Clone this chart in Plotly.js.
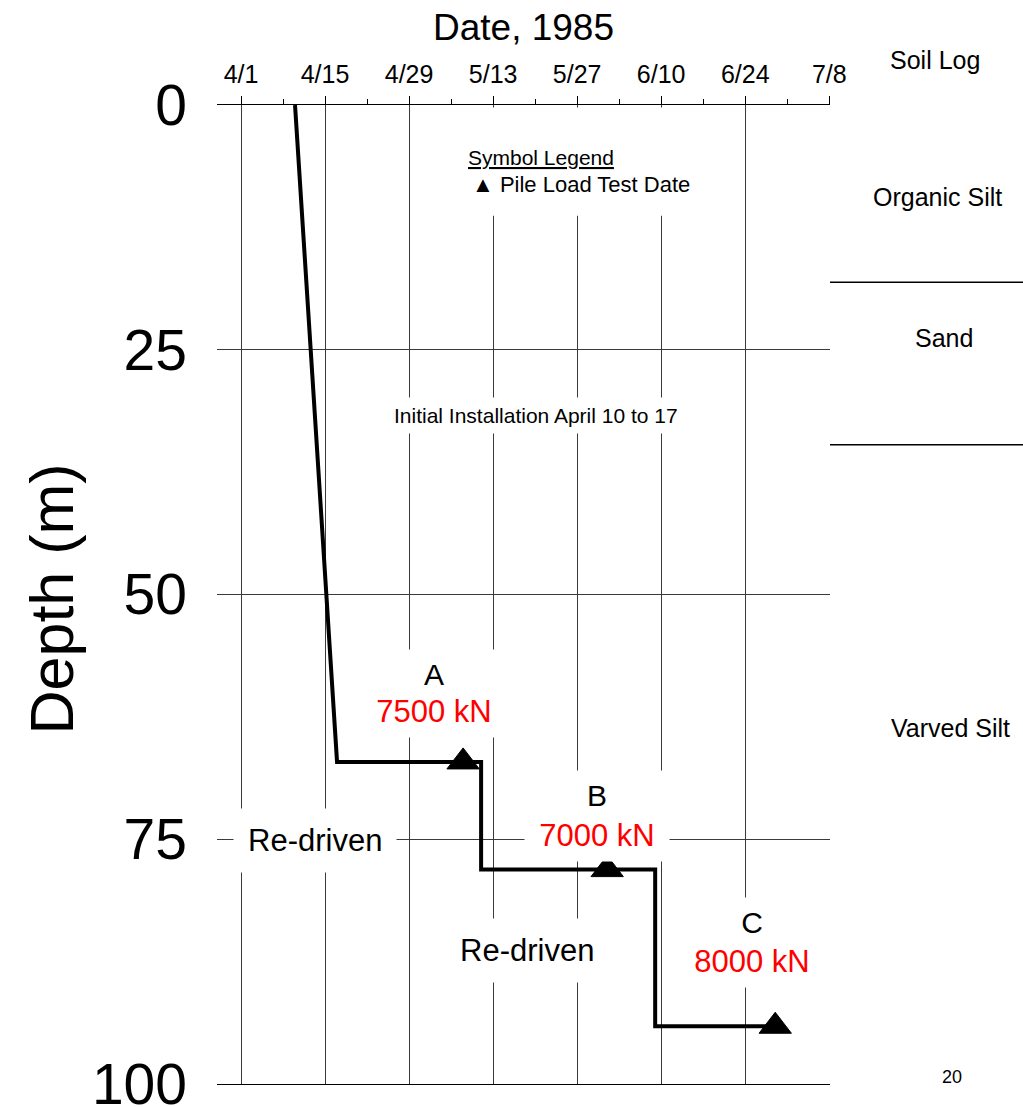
<!DOCTYPE html>
<html>
<head>
<meta charset="utf-8">
<script src="https://cdn.plot.ly/plotly-3.0.1.min.js"></script>
<style>
html,body{margin:0;padding:0;background:#fff;}
#chart{width:1023px;height:1107px;}
</style>
</head>
<body>
<div id="chart"></div>
<script>
// ---- data ----
const pileDates  = ['1985-04-10','1985-04-17','1985-05-11','1985-05-11','1985-06-09','1985-06-09','1985-06-29'];
const pileDepths = [0, 67.1, 67.1, 78.1, 78.1, 94.1, 94.1];
const testDates  = ['1985-05-08','1985-06-01','1985-06-29'];
const testDepths = [67.1, 78.1, 94.1];
const testLabels = ['A','B','C'];
const testLoads  = ['7500 kN','7000 kN','8000 kN'];
const soilNames  = ['Organic Silt','Sand','Varved Silt'];
const soilBoundaries = [18.1, 34.7];
const depthTicks = [0, 25, 50, 75, 100];

const FONT = 'Liberation Sans, Arial, sans-serif';
const DAY = 86400000;
const gridCol = '#3a3a3a';

const traces = [
  {x: pileDates, y: pileDepths, type: 'scatter', mode: 'lines',
   line: {color: '#000', width: 4}, hoverinfo: 'skip', showlegend: false},
  {x: testDates, y: testDepths, type: 'scatter', mode: 'markers',
   marker: {symbol: 'triangle-up', size: 28, color: '#000', line: {color: '#000', width: 1}},
   showlegend: false}
];

// label placement (layout only)
const testLabelPos = [
  {x: '1985-05-03 04:00', yl: 58.2, yv: 62.0},
  {x: '1985-05-30 08:00', yl: 70.5, yv: 74.6},
  {x: '1985-06-25 04:00', yl: 83.5, yv: 87.5}
];
const soilLabelPos = [
  {x: 1.176, y: 9.4},
  {x: 1.186, y: 23.8},
  {x: 1.196, y: 63.6}
];

const annotations = [];
testLabels.forEach((lab, i) => {
  const p = testLabelPos[i];
  annotations.push({
    x: p.x, y: p.yl, xref: 'x', yref: 'y', xanchor: 'center', yanchor: 'middle',
    text: lab, showarrow: false, font: {family: FONT, size: 30, color: '#000'},
    bgcolor: '#fff', borderpad: 8, width: 128
  });
  annotations.push({
    x: p.x, y: p.yv, xref: 'x', yref: 'y', xanchor: 'center', yanchor: 'middle',
    text: testLoads[i], showarrow: false, font: {family: FONT, size: 31, color: '#ff0000'},
    bgcolor: '#fff', borderpad: 8, width: 128
  });
});
soilNames.forEach((nm, i) => {
  annotations.push({
    x: soilLabelPos[i].x, y: soilLabelPos[i].y, xref: 'paper', yref: 'y',
    xanchor: 'center', yanchor: 'middle',
    text: nm, showarrow: false, font: {family: FONT, size: 25, color: '#000'}
  });
});
annotations.push(
  {x: 1.171, y: 1.046, xref: 'paper', yref: 'paper', xanchor: 'center', yanchor: 'middle',
   text: 'Soil Log', showarrow: false, font: {family: FONT, size: 25, color: '#000'}},
  {x: 1.199, y: 99.3, xref: 'paper', yref: 'y', xanchor: 'center', yanchor: 'middle',
   text: '20', showarrow: false, font: {family: FONT, size: 18, color: '#000'}},
  {x: -0.269, y: 0.495, xref: 'paper', yref: 'paper', xanchor: 'center', yanchor: 'middle',
   text: 'Depth (m)', textangle: -90, showarrow: false, font: {family: FONT, size: 61, color: '#000'}},
  {x: '1985-05-08 12:00', y: 5.4, xref: 'x', yref: 'y', xanchor: 'left', yanchor: 'middle',
   text: '<u>Symbol Legend</u>', showarrow: false, font: {family: FONT, size: 21, color: '#000'}},
  {x: '1985-05-09 04:00', y: 8.1, xref: 'x', yref: 'y', xanchor: 'left', yanchor: 'middle',
   text: '▲ Pile Load Test Date', showarrow: false, font: {family: FONT, size: 22, color: '#000'}},
  {x: '1985-05-20 05:00', y: 31.7, xref: 'x', yref: 'y', xanchor: 'center', yanchor: 'middle',
   text: 'Initial Installation April 10 to 17', showarrow: false,
   font: {family: FONT, size: 21, color: '#000'}, bgcolor: '#fff', borderpad: 6},
  {x: '1985-04-13 08:00', y: 75.1, xref: 'x', yref: 'y', xanchor: 'center', yanchor: 'middle',
   text: 'Re-driven', showarrow: false, font: {family: FONT, size: 31, color: '#000'},
   bgcolor: '#fff', borderpad: 14},
  {x: '1985-05-18 16:00', y: 86.4, xref: 'x', yref: 'y', xanchor: 'center', yanchor: 'middle',
   text: 'Re-driven', showarrow: false, font: {family: FONT, size: 31, color: '#000'},
   bgcolor: '#fff', borderpad: 14}
);

const shapes = soilBoundaries.map(d => ({
  type: 'line', xref: 'paper', yref: 'y', x0: 1, x1: 1.32, y0: d, y1: d,
  line: {color: '#000', width: 1.5}
}));
// white masks that interrupt grid lines (between grid and traces)
shapes.push(
  {type: 'rect', xref: 'paper', yref: 'y', x0: 0.985, x1: 1.01, y0: 3.4, y1: 11.8,
   fillcolor: '#fff', line: {width: 0}, layer: 'between'},
  {type: 'rect', xref: 'x', yref: 'y', x0: '1985-05-09', x1: '1985-06-17', y0: 0.25, y1: 11.3,
   fillcolor: '#fff', line: {width: 0}, layer: 'between'}
);

const layout = {
  width: 1023, height: 1107,
  margin: {l: 217, r: 193, t: 105, b: 23},
  paper_bgcolor: '#fff', plot_bgcolor: '#fff',
  font: {family: FONT, color: '#000'},
  showlegend: false,
  xaxis: {
    type: 'date', side: 'top',
    range: ['1985-03-28', '1985-07-08 03:00'],
    tick0: '1985-04-01', dtick: 14 * DAY, tickformat: '%-m/%-d',
    ticks: 'outside', ticklen: 8, tickwidth: 1, tickcolor: '#000',
    minor: {tick0: '1985-04-01', dtick: 7 * DAY, ticks: 'outside', ticklen: 5, tickcolor: '#000', showgrid: false},
    showline: true, linecolor: '#000', linewidth: 1, mirror: true,
    showgrid: true, gridcolor: gridCol, gridwidth: 1, zeroline: false,
    tickfont: {family: FONT, size: 25, color: '#000'},
    ticklabelstandoff: 3,
    title: {text: 'Date, 1985', font: {family: FONT, size: 37, color: '#000'}, standoff: 8}
  },
  yaxis: {
    range: [100, 0], tickvals: depthTicks, ticktext: depthTicks.map(String),
    ticks: '', showline: false, zeroline: false,
    showgrid: true, gridcolor: gridCol, gridwidth: 1,
    tickfont: {family: FONT, size: 57, color: '#000'},
    ticklabelstandoff: 29, ticklabeloverflow: 'allow'
  },
  annotations: annotations,
  shapes: shapes
};

Plotly.newPlot('chart', traces, layout, {staticPlot: true, displayModeBar: false});
</script>
</body>
</html>
